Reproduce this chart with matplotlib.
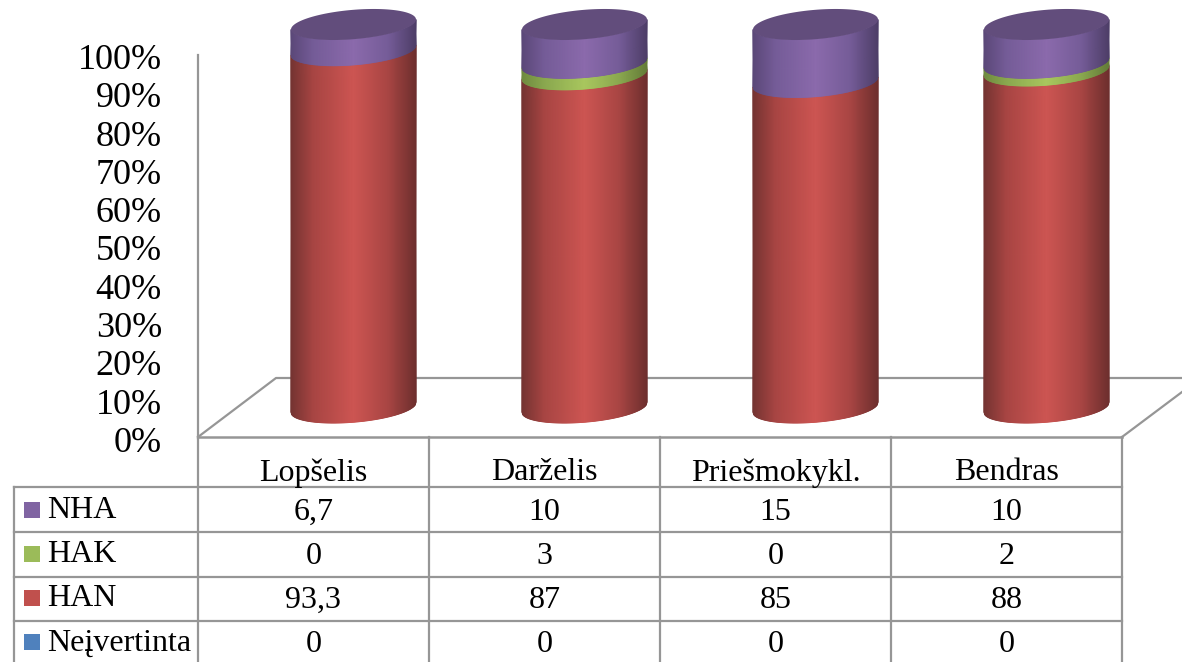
import numpy as np
import matplotlib
matplotlib.use('Agg')
from matplotlib import pyplot as plt
from matplotlib.colors import LinearSegmentedColormap
from matplotlib.transforms import ScaledTranslation

plt.rcParams['font.family'] = ['Liberation Serif', 'DejaVu Serif']

categories = ['Lopšelis', 'Darželis', 'Priešmokykl.', 'Bendras']
series_names = ['NHA', 'HAK', 'HAN', 'Neįvertinta']
nha = [6.7, 10, 15, 10]
hak = [0, 3, 0, 2]
han = [93.3, 87, 85, 88]
nei = [0, 0, 0, 0]
cell_text = ['6,7', '10', '15', '10'], ['0', '3', '0', '2'], ['93,3', '87', '85', '88'], ['0', '0', '0', '0']

legend_colors = ['#8064a2', '#9bbb59', '#c0504d', '#4f81bd']
GRID = '#969696'
W, H = 1182, 662

fig = plt.figure(figsize=(W / 100, H / 100), dpi=100)

# background axes in pixels: floor and data table
bg = fig.add_axes([0, 0, 1, 1])
bg.set_xlim(0, W)
bg.set_ylim(H, 0)
bg.axis('off')

col_x = [198, 429, 660, 891, 1122]
row_y = [487, 532, 577, 621]

# floor
bg.plot([198, 276, 1182], [437, 378, 378], color=GRID, lw=1.6)
bg.plot([1122, 1182], [437, 392], color=GRID, lw=1.6)

# table lines
bg.plot([198, 1122], [437, 437], color=GRID, lw=1.8)
for y in row_y:
    bg.plot([14, 1122], [y, y], color=GRID, lw=1.6)
for x in col_x:
    bg.plot([x, x], [437, H], color=GRID, lw=1.6)
bg.plot([14, 14], [487, H], color=GRID, lw=1.6)

for i, cat in enumerate(categories):
    xc = (col_x[i] + col_x[i + 1]) / 2
    bg.text(xc, 473, cat, ha='center', va='center', fontsize=23, color='black')

row_centers = [510, 554, 598, 642]
for r, name in enumerate(series_names):
    yc = row_centers[r]
    bg.fill([24, 40, 40, 24], [yc - 8, yc - 8, yc + 8, yc + 8], color=legend_colors[r], lw=0)
    bg.text(47, yc + 1, name, ha='left', va='center', fontsize=23, color='black')
    for i in range(4):
        xc = (col_x[i] + col_x[i + 1]) / 2
        bg.text(xc, yc + 2, cell_text[r][i], ha='center', va='center', fontsize=23, color='black')

# value axis: 0% at y=438, 100% at y=55
ax = fig.add_axes([198 / W, 1 - 438 / H, 924 / W, (438 - 55) / H])
ax.patch.set_alpha(0)
ax.set_xlim(-0.5, 3.5)
ax.set_ylim(0, 100)
for s in ['top', 'right', 'bottom']:
    ax.spines[s].set_visible(False)
ax.spines['left'].set_color(GRID)
ax.spines['left'].set_linewidth(1.6)
ax.set_xticks([])
ax.set_yticks(np.arange(0, 101, 10))
ax.set_yticklabels([f'{v}%' for v in range(0, 101, 10)], fontsize=26)
ax.tick_params(axis='y', length=0, pad=26, colors='black')
for lab in ax.get_yticklabels():
    lab.set_transform(lab.get_transform() + ScaledTranslation(0, -1.5 / 100, fig.dpi_scale_trans))

# cylinder geometry
py = 100 / 383       # percent per pixel
px = 1 / 231         # category units per pixel
half_w = 62.5 * px
ell_b = 14.7 * py
ell_s = 5 * py
dx = 40 * px
dy = 30.5 * py


def shades(dark, mid, bright, edge):
    return LinearSegmentedColormap.from_list('c', [(0, dark), (0.18, mid), (0.5, bright), (0.78, mid), (1, edge)])


cmaps = {
    'han': shades('#743432', '#a84543', '#cd5552', '#6e2f2e'),
    'hak': shades('#6f8a40', '#8aa84f', '#a9c75e', '#647c38'),
    'nha': shades('#5b4878', '#755c98', '#8b6aac', '#4e3e68'),
}
u = np.linspace(-1, 1, 126)


def front(t):
    return ell_s * t - ell_b * np.sqrt(1 - t ** 2)


for i in range(4):
    xs = i + dx + half_w * u
    stack = [('han', han[i]), ('hak', hak[i]), ('nha', nha[i])]
    base = 0
    for key, val in stack:
        if val > 0:
            lo = base + dy + front(u)
            hi = base + val + dy + front(u)
            X = np.vstack([xs, xs])
            Y = np.vstack([lo, hi])
            C = np.vstack([(u + 1) / 2, (u + 1) / 2])
            ax.pcolormesh(X, Y, C, shading='gouraud', cmap=cmaps[key], vmin=0, vmax=1,
                          clip_on=False, zorder=3)
        base += val
    # top cap
    t = np.linspace(0, 2 * np.pi, 200)
    ax.fill(i + dx + half_w * np.cos(t),
            base + dy + ell_s * np.cos(t) + ell_b * np.sin(t),
            color='#624d7c', lw=0, clip_on=False, zorder=4)

fig.savefig('out.png', dpi=100)
